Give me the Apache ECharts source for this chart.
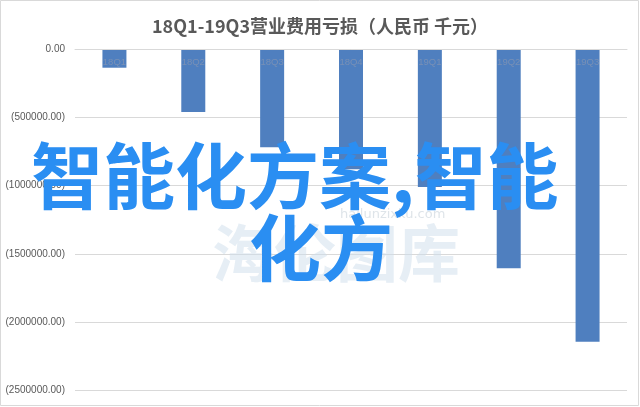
<!DOCTYPE html>
<html>
<head>
<meta charset="utf-8">
<script src="https://cdn.jsdelivr.net/npm/echarts@6/dist/echarts.min.js"></script>
<style>
html,body{margin:0;padding:0;background:#fff;}
#c{width:640px;height:407px;}
</style>
</head>
<body>
<div id="c"></div>
<script>
const titleText = '18Q1-19Q3营业费用亏损（人民币 千元）';
const categories = ['18Q1','18Q2','18Q3','18Q4','19Q1','19Q2','19Q3'];
const values = [-137000, -461000, -720000, -880000, -1010000, -1605000, -2143000];
const yMin = -2500000;
const yMax = 0;
const yStep = 500000;
const overlayLine1 = '智能化方案,智能';
const overlayLine2 = '化方';
const watermarkText = '海伦图库';
const watermarkUrl = 'hailunzixku.com';

const chart = echarts.init(document.getElementById('c'), null, {renderer:'canvas'});
chart.setOption({
  backgroundColor:'#fff',
  animation:false,
  title:{
    text: titleText,
    left:'center',
    top:12,
    textStyle:{color:'#595959',fontSize:18,fontWeight:'bold',fontFamily:'"Noto Sans CJK SC","Noto Sans",sans-serif'}
  },
  grid:{left:75,right:13,top:49,bottom:16.5,containLabel:false},
  xAxis:{
    type:'category',
    data:categories,
    position:'top',
    z:5,
    axisLine:{onZero:false,lineStyle:{color:'#d9d9d9',width:1}},
    axisTick:{show:false},
    axisLabel:{inside:true,color:'#7890b6',fontSize:9.5,margin:8,fontFamily:'"Liberation Sans",Arial,sans-serif'}
  },
  yAxis:{
    type:'value',
    min:yMin,max:yMax,interval:yStep,
    axisLine:{show:false},
    axisTick:{show:false},
    splitLine:{lineStyle:{color:'#d9d9d9',width:1}},
    axisLabel:{
      color:'#595959',fontSize:10,margin:10,
      fontFamily:'"Liberation Sans",Arial,sans-serif',
      formatter:function(v){ return v===0 ? '0.00' : '(' + Math.abs(v).toFixed(2) + ')'; }
    }
  },
  series:[{
    type:'bar',
    data:values,
    barWidth:24,
    itemStyle:{color:'#4f7fbf'}
  }],
  graphic:[
    {type:'rect',shape:{x:0.5,y:0.5,width:638,height:405},style:{fill:'none',stroke:'#d9d9d9',lineWidth:1},z:1,silent:true},
    {type:'text',left:212,top:222,z:50,style:{text:watermarkText,fill:'rgba(205,222,235,0.5)',font:'bold 62px "Noto Sans CJK SC",sans-serif'},silent:true},
    {type:'text',left:340,top:208,z:50,style:{text:watermarkUrl,fill:'rgba(195,205,215,0.55)',font:'13px "DejaVu Sans",sans-serif'},silent:true},
    {type:'text',x:31,y:176,z:100,style:{text:overlayLine1,fill:'#2a8ef2',font:'bold 72px "Noto Sans CJK SC",sans-serif',textVerticalAlign:'middle',textAlign:'left'},silent:true},
    {type:'text',x:249,y:248,z:100,style:{text:overlayLine2,fill:'#2a8ef2',font:'bold 72px "Noto Sans CJK SC",sans-serif',textVerticalAlign:'middle',textAlign:'left'},silent:true}
  ]
});
</script>
</body>
</html>
